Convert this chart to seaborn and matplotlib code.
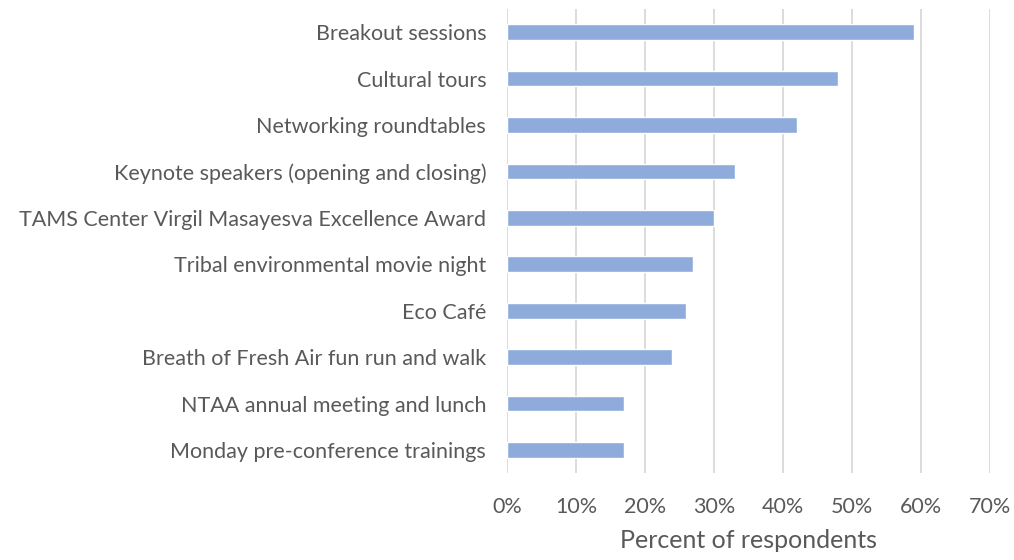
import matplotlib
matplotlib.use("Agg")
import matplotlib.pyplot as plt
import seaborn as sns
import pandas as pd
from matplotlib.ticker import PercentFormatter

# Survey data
activities = [
    "Breakout sessions",
    "Cultural tours",
    "Networking roundtables",
    "Keynote speakers (opening and closing)",
    "TAMS Center Virgil Masayesva Excellence Award",
    "Tribal environmental movie night",
    "Eco Café",
    "Breath of Fresh Air fun run and walk",
    "NTAA annual meeting and lunch",
    "Monday pre-conference trainings",
]
percents = [59, 48, 42, 33, 30, 27, 26, 24, 17, 17]
x_ticks = [0, 10, 20, 30, 40, 50, 60, 70]

df = pd.DataFrame({"activity": activities, "percent": percents})

sns.set_style("white")
plt.rcParams["font.family"] = ["Lato", "DejaVu Sans"]
text_color = "#595959"

fig = plt.figure(figsize=(10.14, 5.6), dpi=100)
ax = fig.add_axes([0.5, 0.155, 0.476, 0.829])

sns.barplot(data=df, x="percent", y="activity", orient="h",
            color="#8FABDC", saturation=1, width=0.34, ax=ax)

ax.set_xlim(0, 70)
ax.set_xticks(x_ticks)
ax.xaxis.set_major_formatter(PercentFormatter(decimals=0))
ax.grid(axis="x", color="#d9d9d9", linewidth=1.3)
ax.set_axisbelow(True)
for s in ax.spines.values():
    s.set_visible(False)
ax.tick_params(axis="both", length=0, labelsize=15.5, colors=text_color)
ax.tick_params(axis="y", pad=15)
ax.tick_params(axis="x", pad=17)
ax.set_ylabel("")
ax.set_xlabel("Percent of respondents", fontsize=18, color=text_color, labelpad=9)

fig.savefig("out.png", dpi=100)
